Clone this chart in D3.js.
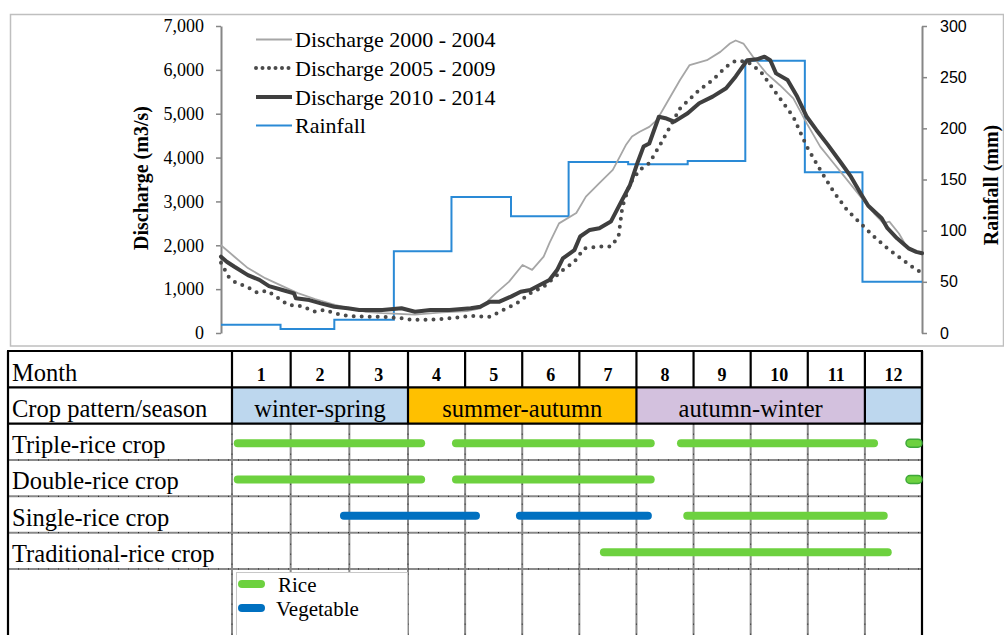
<!DOCTYPE html>
<html>
<head>
<meta charset="utf-8">
<script src="https://cdnjs.cloudflare.com/ajax/libs/d3/7.8.5/d3.min.js"></script>
<style>
  body { margin: 0; background: #fff; }
  svg { display: block; }
</style>
</head>
<body>
<div id="chart"></div>
<script>
// discharge series: [day of year, m3/s]
var discharge2000 = [[0,2000],[7,1740],[14,1480],[23,1250],[32,1070],[40,910],[49,775],[58,660],[66,570],[75,485],[84,455],[101,420],[115,470],[128,500],[135,560],[143,905],[150,1170],[157,1550],[162,1440],[168,1740],[171,2050],[176,2500],[185,2735],[190,3110],[197,3420],[204,3720],[208,4050],[211,4300],[214,4480],[218,4590],[223,4700],[227,4860],[232,5240],[239,5770],[244,6110],[253,6220],[260,6410],[265,6600],[268,6670],[272,6600],[277,6300],[284,5920],[291,5650],[298,5350],[305,4780],[312,4250],[319,3870],[326,3490],[333,3110],[340,2730],[345,2500],[348,2540],[353,2270],[357,1970],[362,1850],[365,1820]];
var discharge2005 = [[0,1600],[4,1280],[7,1170],[14,1040],[19,920],[24,965],[30,790],[35,640],[42,615],[49,485],[54,525],[59,450],[66,390],[75,370],[84,370],[94,335],[99,300],[109,300],[119,335],[130,390],[140,370],[147,525],[154,675],[161,905],[168,1055],[173,1245],[178,1435],[184,1625],[189,1930],[196,1970],[203,1970],[207,2200],[209,2880],[213,3410],[218,3720],[223,3870],[229,4320],[239,5120],[249,5540],[256,5770],[263,6070],[268,6210],[274,6190],[281,5960],[289,5470],[298,4930],[305,4250],[312,3720],[319,3220],[326,2800],[333,2500],[340,2200],[347,1930],[354,1700],[361,1475],[365,1370]];
var discharge2010 = [[0,1740],[3,1625],[7,1510],[14,1320],[20,1210],[25,1070],[32,980],[38,905],[39,790],[46,750],[52,675],[59,600],[66,565],[72,525],[84,525],[94,565],[101,485],[109,525],[119,525],[130,565],[135,600],[140,715],[145,715],[151,830],[156,940],[161,980],[166,1095],[171,1210],[175,1435],[178,1700],[184,1890],[187,2200],[192,2350],[197,2390],[203,2540],[208,2960],[213,3375],[217,3900],[220,4250],[223,4320],[228,4930],[232,4890],[236,4820],[243,5010],[249,5240],[256,5390],[263,5580],[268,5850],[274,6220],[279,6240],[283,6300],[286,6220],[289,5920],[295,5770],[300,5390],[305,4930],[310,4630],[316,4290],[323,3870],[328,3565],[333,3185],[337,2900],[344,2615],[347,2390],[352,2160],[358,1930],[362,1850],[365,1820]];

// monthly rainfall (mm)
var monthStartDays = [0, 31, 59, 90, 120, 151, 181, 212, 243, 273, 304, 334];
var rainfall = [8, 4, 13, 80, 133, 114, 167, 165, 168, 266, 157, 50];

var dischargeTicks = [0, 1000, 2000, 3000, 4000, 5000, 6000, 7000];
var rainfallTicks = [0, 50, 100, 150, 200, 250, 300];
var seriesNames = ["Discharge 2000 - 2004", "Discharge 2005 - 2009", "Discharge 2010 - 2014", "Rainfall"];

// table
var months = ["1", "2", "3", "4", "5", "6", "7", "8", "9", "10", "11", "12"];
var rowLabels = ["Month", "Crop pattern/season", "Triple-rice crop", "Double-rice crop", "Single-rice crop", "Traditional-rice crop"];
var seasonNames = ["winter-spring", "summer-autumn", "autumn-winter", ""];
var seasonBounds = [[0, 3], [3, 7], [7, 11], [11, 12]];
// crop periods in month units: [from, to, crop]
var tripleRice = [[0.03, 3.3, "rice"], [3.77, 7.32, "rice"], [7.71, 11.23, "rice"], [11.72, 12, "rice"]];
var doubleRice = [[0.03, 3.3, "rice"], [3.77, 7.32, "rice"], [11.72, 12, "rice"]];
var singleRice = [[1.84, 4.26, "veg"], [4.89, 7.27, "veg"], [7.82, 11.4, "rice"]];
var traditionalRice = [[6.36, 11.47, "rice"]];
var cropNames = ["Rice", "Vegetable"];

var serif = "'Liberation Serif', 'Times New Roman', serif";
var sans = "'Liberation Sans', Arial, sans-serif";
var axisGray = "#868686";
var green = "#6dd13f", blue = "#0070c0";

var svg = d3.select("#chart").append("svg").attr("width", 1004).attr("height", 635);

// chart frame
svg.append("rect")
  .attr("x", 10.5).attr("y", 14.5).attr("width", 993).attr("height", 331.5)
  .attr("fill", "none").attr("stroke", "#bfbfbf").attr("stroke-width", 1.5);

var x = d3.scaleLinear().domain([0, 365]).range([221, 922]);
var yQ = d3.scaleLinear().domain([0, 7000]).range([333, 26]);
var yR = d3.scaleLinear().domain([0, 300]).range([333, 26]);

// axes
var axL = svg.append("g").attr("transform", "translate(221,0)")
  .call(d3.axisLeft(yQ).tickValues(dischargeTicks).tickSize(5).tickSizeOuter(0).tickPadding(12).tickFormat(d3.format(",")));
var axR = svg.append("g").attr("transform", "translate(922,0)")
  .call(d3.axisRight(yR).tickValues(rainfallTicks).tickSize(5).tickSizeOuter(0).tickPadding(13));
[axL, axR].forEach(function(g) {
  g.select(".domain").attr("stroke", axisGray).attr("stroke-width", 2);
  g.selectAll(".tick line").attr("stroke", axisGray).attr("stroke-width", 1.5);
  g.selectAll(".tick text").attr("fill", "#000");
});
axL.selectAll(".tick text").attr("font-family", serif).attr("font-size", 18);
axR.selectAll(".tick text").attr("font-family", sans).attr("font-size", 16);

svg.append("text")
  .attr("transform", "translate(148,178) rotate(-90)")
  .attr("text-anchor", "middle").attr("font-family", serif).attr("font-weight", "bold").attr("font-size", 20)
  .text("Discharge (m3/s)");
svg.append("text")
  .attr("transform", "translate(998,185) rotate(-90)")
  .attr("text-anchor", "middle").attr("font-family", serif).attr("font-weight", "bold").attr("font-size", 20)
  .text("Rainfall (mm)");

// lines
var lineQ = d3.line().x(function(d) { return x(d[0]); }).y(function(d) { return yQ(d[1]); });
var rainPts = monthStartDays.map(function(d, i) { return [d, rainfall[i]]; });
rainPts.push([365, rainfall[rainfall.length - 1]]);
var lineR = d3.line().curve(d3.curveStepAfter).x(function(d) { return x(d[0]); }).y(function(d) { return yR(d[1]); });

var styles = [
  { stroke: "#a6a6a6", width: 1.8, dash: null },
  { stroke: "#4a4a4a", width: 4, dash: "0,8" },
  { stroke: "#3f3f3f", width: 4, dash: null },
  { stroke: "#2a8ad6", width: 2, dash: null }
];

svg.append("path").datum(rainPts).attr("d", lineR)
  .attr("fill", "none").attr("stroke", styles[3].stroke).attr("stroke-width", styles[3].width);

[discharge2000, discharge2005, discharge2010].forEach(function(s, i) {
  svg.append("path").datum(s).attr("d", lineQ)
    .attr("fill", "none")
    .attr("stroke", styles[i].stroke)
    .attr("stroke-width", styles[i].width)
    .attr("stroke-linecap", "round")
    .attr("stroke-linejoin", "round")
    .attr("stroke-dasharray", styles[i].dash);
});

// legend
var legendY = [39.5, 68, 97, 125.5];
var leg = svg.append("g");
seriesNames.forEach(function(name, i) {
  leg.append("line")
    .attr("x1", 256).attr("x2", 292).attr("y1", legendY[i]).attr("y2", legendY[i])
    .attr("stroke", styles[i].stroke).attr("stroke-width", styles[i].width)
    .attr("stroke-linecap", i == 1 ? "round" : "butt")
    .attr("stroke-dasharray", i == 1 ? "0,6.5" : null);
  leg.append("text")
    .attr("x", 295).attr("y", legendY[i] + 7.5)
    .attr("font-family", serif).attr("font-size", 22)
    .text(name);
});

// ---- table ----
var tx = d3.scaleLinear().domain([0, 3, 12]).range([232, 408, 922]);
var rowTop = 351, rowH = 36.33;
function rowY(i) { return rowTop + i * rowH; }
var tableBottom = 640;

var seasonColors = ["#bdd7ee", "#ffc000", "#d3c1de", "#bdd7ee"];
var tbl = svg.append("g");

tbl.selectAll("rect.season").data(seasonBounds).enter().append("rect")
  .attr("x", function(d) { return tx(d[0]); })
  .attr("y", rowY(1))
  .attr("width", function(d) { return tx(d[1]) - tx(d[0]); })
  .attr("height", rowH)
  .attr("fill", function(d, i) { return seasonColors[i]; });

// grey grid in lower rows
var gridG = tbl.append("g");
function grayLine(x1, y1, x2, y2) {
  gridG.append("line").attr("x1", x1).attr("y1", y1).attr("x2", x2).attr("y2", y2)
    .attr("stroke", "#8a8a8a").attr("stroke-width", 2);
  gridG.append("line").attr("x1", x1).attr("y1", y1).attr("x2", x2).attr("y2", y2)
    .attr("stroke", "#222").attr("stroke-width", 1).attr("stroke-dasharray", "1,9");
}
d3.range(0, 12).forEach(function(m) { grayLine(tx(m), rowY(2), tx(m), tableBottom); });
d3.range(3, 7).forEach(function(r) { grayLine(8, rowY(r), 922, rowY(r)); });

// black lines in header rows
function blackLine(x1, y1, x2, y2) {
  tbl.append("line").attr("x1", x1).attr("y1", y1).attr("x2", x2).attr("y2", y2)
    .attr("stroke", "#000").attr("stroke-width", 2.2);
}
[0, 1, 2].forEach(function(r) { blackLine(7, rowY(r), 923, rowY(r)); });
d3.range(0, 13).forEach(function(m) { blackLine(tx(m), rowY(0), tx(m), rowY(1)); });
[0, 3, 7, 11, 12].forEach(function(m) { blackLine(tx(m), rowY(1), tx(m), rowY(2)); });
blackLine(8, rowY(0), 8, tableBottom);
blackLine(922, rowY(0), 922, tableBottom);

// row labels
rowLabels.forEach(function(lab, i) {
  tbl.append("text").attr("x", 12).attr("y", rowY(i) + 29.5)
    .attr("font-family", serif).attr("font-size", 24.5).text(lab);
});
months.forEach(function(m, i) {
  tbl.append("text").attr("x", tx(i + 0.5)).attr("y", rowY(0) + 29.5)
    .attr("text-anchor", "middle").attr("font-family", serif).attr("font-weight", "bold").attr("font-size", 18)
    .text(m);
});
seasonNames.forEach(function(s, i) {
  tbl.append("text").attr("x", (tx(seasonBounds[i][0]) + tx(seasonBounds[i][1])) / 2).attr("y", rowY(1) + 29.5)
    .attr("text-anchor", "middle").attr("font-family", serif).attr("font-size", 24.5)
    .text(s);
});

// crop bars
var barH = 8;
[tripleRice, doubleRice, singleRice, traditionalRice].forEach(function(periods, r) {
  var cy = rowY(r + 2) + 19.5;
  tbl.selectAll(null).data(periods).enter().append("rect")
    .attr("x", function(d) { return tx(d[0]); })
    .attr("y", cy - barH / 2)
    .attr("width", function(d) { return tx(d[1]) - tx(d[0]); })
    .attr("height", barH)
    .attr("rx", barH / 2)
    .attr("fill", function(d) { return d[2] == "rice" ? green : blue; })
    .attr("stroke", function(d) { return d[1] >= 12 ? "#3fa83a" : null; })
    .attr("stroke-width", 1.5);
});

// crop legend box
var lg = tbl.append("g");
lg.append("rect").attr("x", 236.5).attr("y", 572.5).attr("width", 171).attr("height", 80)
  .attr("fill", "#fff").attr("stroke", "#c8c8c8").attr("stroke-width", 1);
cropNames.forEach(function(c, i) {
  var cy = 584 + i * 24;
  lg.append("rect").attr("x", 238).attr("y", cy - 4).attr("width", 27).attr("height", 8).attr("rx", 4)
    .attr("fill", i == 0 ? green : blue);
  lg.append("text").attr("x", i == 0 ? 278 : 276).attr("y", cy + 8)
    .attr("font-family", serif).attr("font-size", 21).text(c);
});
</script>
</body>
</html>
